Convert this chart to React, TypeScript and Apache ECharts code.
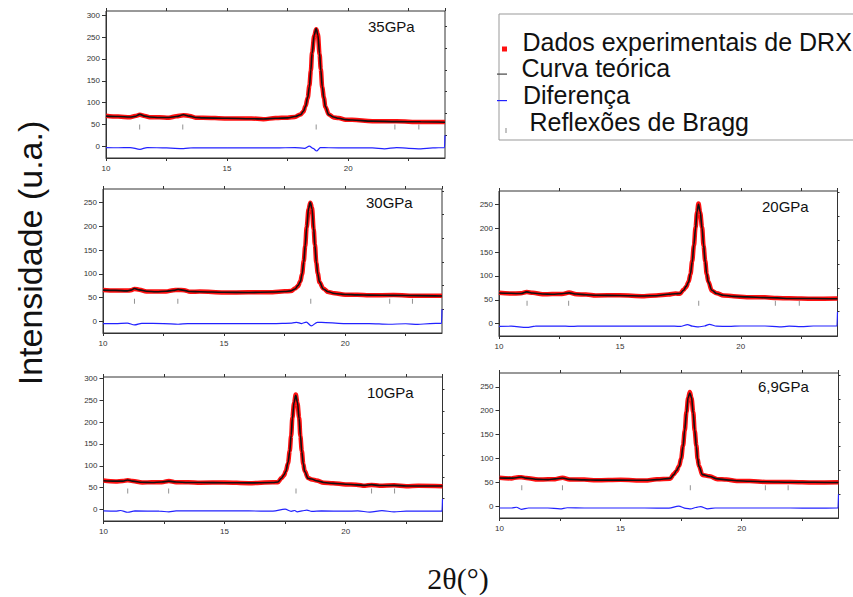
import React, { useEffect, useRef } from "react";
import * as echarts from "echarts";

// ---------- data ----------
const panelLabels = ["35GPa", "30GPa", "20GPa", "10GPa", "6,9GPa"];

const x35 = [10.0,10.5,11.0,11.2,11.4,11.6,11.8,12.2,12.6,12.9,13.2,13.45,13.7,14.0,15.0,16.0,16.5,17.0,17.5,17.8,18.03,18.15,18.24,18.33,18.40,18.46,18.51,18.60,18.68,18.75,18.82,18.87,18.93,19.00,19.06,19.2,19.4,19.61,19.9,20.16,21.0,22.0,23.0,24.0];
const theo35 = [69,68,67,68.5,73,69,67,66,66,68,72,69,66,65,64,63,62.5,64,65,68,72,80,91,112,137,175,213,255,270,255,213,175,137,110,91,72,67,64,61,60,57.5,56.5,56,55];
const exp35 = [70,68,66.5,69,72,69.5,66.5,66.5,65.5,68.5,71,69.5,65.5,65.5,63.5,63.5,62,64.5,65.5,67,73,79,92,111,139,173,215,253,268,257,211,177,135,111,90,73,66,64.5,60.5,60.5,57,57,55.5,55.5];
const dX35 = [10.0,10.5,11.0,11.4,11.7,12.5,13.2,13.6,15,16,17,17.8,18.2,18.4,18.55,18.7,18.85,19.2,20,21,21.5,22,22.5,23,23.5,23.98,24];
const d35 = [-3,-3.5,-3,-7,-3,-4,-5.5,-3.5,-4,-4,-4,-3,-5,0,-5,-11,-3,-3.5,-4,-4,-6,-3,-5,-6,-4,-3,25];
const bragg35 = [11.39,13.17,18.68,21.93,22.92];

const x30 = [10.0,10.5,11.0,11.15,11.3,11.5,11.8,12.2,12.6,12.9,13.1,13.35,13.6,14.0,15.0,16.0,17.0,17.5,17.76,17.93,18.05,18.15,18.22,18.29,18.35,18.41,18.49,18.56,18.63,18.70,18.75,18.81,18.87,18.94,19.10,19.3,19.56,20.0,20.5,21.0,22.0,23.0,24.0];
const theo30 = [65.5,65,64,65.5,69,66,63,62,63,65,67,65,62.5,62,61,60.6,61.5,62.5,64,68,75,83,100,125,160,196,238,251,238,196,160,125,100,83,68,62,58.5,56.4,55.5,55,54.5,54,53];
const exp30 = [66,64.5,64.5,65,68,66.5,62.5,62.5,62.5,65.5,66,65.5,62,62.5,60.5,61,61,63,63.5,69,74,84,99,127,158,198,236,250,240,194,162,123,101,82,69,61.5,59,56,56,54.5,55,53.5,53.5];
const dX30 = [10.0,10.5,11.0,11.3,11.6,12.5,13.1,13.5,15,16,17,17.8,18.0,18.2,18.4,18.6,18.85,19.2,20,21,21.8,22.5,23,23.5,23.98,24];
const d30 = [-5,-5,-4,-8,-4.5,-5,-6.5,-5,-5,-5,-5,-4,-2.5,-5,-2,-10,-2.5,-3,-5,-5,-6.5,-5.5,-7,-5,-4.5,25];
const bragg30 = [11.30,13.09,18.58,21.84,22.78];

const x20 = [10.0,10.5,10.9,11.15,11.4,11.8,12.2,12.6,12.9,13.2,13.6,14.0,15.0,16.0,16.5,17.0,17.3,17.49,17.63,17.74,17.84,17.92,17.99,18.06,18.13,18.19,18.25,18.32,18.40,18.46,18.53,18.59,18.66,18.80,19.0,19.29,19.7,20.25,21.0,21.5,22.0,23.0,24.0];
const theo20 = [64,63.5,63,66.5,64,62,61.5,62.5,64.5,62,60.5,59.5,59,58,58.5,61.5,62.5,63,70,78,87,105,129,165,200,235,250,235,200,165,129,105,87,70,63,59.5,57,56,54.5,54,52.5,52.5,52];
const exp20 = [64.5,63,63.5,66,64.5,61.5,62,62,65,61.5,61,59,59.5,57.5,59,61,63,62.5,71,77,88,104,131,163,202,233,252,233,202,163,131,104,88,69,63.5,59,57.5,55.5,55,53.5,53,52,52.5];
const dX20 = [10.0,10.5,11.15,11.5,12.5,13.0,13.5,15,16,17,17.5,17.8,18.0,18.25,18.5,18.7,19.0,19.5,20,21,21.6,22,22.5,23,23.98,24];
const d20 = [-6,-5.5,-8,-5.5,-5,-6,-5,-5.5,-5.5,-5,-6,-2,-5.5,-7,-5,-1.5,-5.5,-6,-5,-5,-7,-5.5,-6.5,-5,-5,25];
const bragg20 = [11.16,12.88,18.26,21.43,22.42];

const x10 = [10.0,10.5,10.8,11.0,11.2,11.6,12.0,12.4,12.7,13.0,13.5,14.0,15.0,16.0,17.0,17.2,17.35,17.45,17.53,17.62,17.69,17.75,17.80,17.87,17.94,18.01,18.08,18.13,18.19,18.25,18.31,18.45,18.6,18.79,19.1,19.48,20.0,20.44,20.8,21.07,21.4,22.0,22.5,23.0,24.0];
const theo10 = [66,65,65,67.6,65,62.5,62,63,65,63,62,62,61.5,61,62,63,71.5,79,87,108,132,170,208,245,261,245,208,170,132,105,87,71.5,70,66,62,60,58,56.5,55.5,57,55,55.5,54,54,54];
const exp10 = [66.5,64.5,65.5,67,65.5,62,62.5,62.5,65.5,62.5,62.5,61.5,62,60.5,62.5,62.5,72,78,88,106,134,168,210,243,263,243,210,168,134,104,88,72,69,66.5,61.5,60.5,57.5,57,54.5,56.5,54.5,55.5,53.5,54.5,53.5];
const dX10 = [10.0,10.5,10.7,11.0,11.3,12.3,12.7,13.0,15,16,17,17.5,17.75,17.9,18.0,18.2,18.4,18.6,19,20,20.5,21,21.5,22,22.5,23,23.98,24];
const d10 = [-3,-3.5,-2,-6,-3,-3.5,-5,-3,-3,-3,-3.5,1,-4,-2,-5,-3,-1,-4,-3,-3.5,-3,-5.5,-2.5,-5,-3.5,-3.5,-3.5,25];
const bragg10 = [11.0,12.69,17.95,21.07,22.02];

const x69 = [10.0,10.5,10.7,10.9,11.1,11.6,12.0,12.3,12.6,12.9,13.5,14.0,15.0,16.0,16.5,17.05,17.20,17.30,17.42,17.50,17.58,17.65,17.72,17.79,17.86,17.93,18.00,18.06,18.13,18.18,18.24,18.38,18.68,19.0,19.37,19.8,20.33,21.0,22.0,23.0,24.0];
const theo69 = [59,58.5,59.5,61,58.5,56,55.5,57,59,56,55,54.5,54.5,54,55.5,58,66,74,83,100,125,160,195,228,237,228,195,160,125,100,83,66,62,57,55,53,52,51,50,50,49.5];
const exp69 = [59.5,58,60,60.5,59,55.5,56,56.5,59.5,55.5,55.5,54,55,53.5,56,57.5,67,73,84,99,127,158,197,226,239,226,197,158,127,99,84,65,62.5,56.5,55.5,52.5,52.5,50.5,50.5,49.5,50];
const dX69 = [10.0,10.5,10.7,10.9,11.2,12.0,12.5,12.8,13.5,15,16,17,17.4,17.7,17.9,18.1,18.3,18.6,18.9,20,21,22,23,23.98,24];
const d69 = [-4,-4,-2.5,-7,-4,-4,-6,-3.5,-4,-4,-4,-4.5,0,-5,-6,-3,-1,-6,-4,-4,-4,-4,-4.5,-4,25];
const bragg69 = [10.92,12.6,17.88,20.98,21.92];

const braggLevel = [44, 42, 42.5, 42.5, 38.5];
const yMajor300 = [0, 50, 100, 150, 200, 250, 300];
const yMajor250 = [0, 50, 100, 150, 200, 250];
const yMinor300 = [25, 75, 125, 175, 225, 275];
const yMinor250 = [25, 75, 125, 175, 225, 275];
const legendLabels = ["Dados experimentais de DRX", "Curva teórica", "Diferença", " Reflexões de Bragg"];

// ---------- layout ----------
const panels = [
  { x: x35, theo: theo35, exp: exp35, dX: dX35, d: d35, bragg: bragg35, major: yMajor300, minor: yMinor300, min: -27, max: 310, box: [106, 11, 339, 147], lab: [368, 28] },
  { x: x30, theo: theo30, exp: exp30, dX: dX30, d: d30, bragg: bragg30, major: yMajor250, minor: yMinor250, min: -25, max: 279, box: [103, 189, 339, 144], lab: [366, 204] },
  { x: x20, theo: theo20, exp: exp20, dX: dX20, d: d20, bragg: bragg20, major: yMajor250, minor: yMinor250, min: -26, max: 278, box: [499, 191, 338.5, 145], lab: [762, 208] },
  { x: x10, theo: theo10, exp: exp10, dX: dX10, d: d10, bragg: bragg10, major: yMajor300, minor: yMinor300, min: -26, max: 303, box: [103.5, 377, 339, 144], lab: [367, 394] },
  { x: x69, theo: theo69, exp: exp69, dX: dX69, d: d69, bragg: bragg69, major: yMajor250, minor: yMinor250, min: -25, max: 279, box: [499.5, 373, 339, 145], lab: [758, 388] },
];

const AX = "#333";
const FONT = "'Liberation Sans', Arial, sans-serif";

function zip(a: number[], b: number[]) {
  return a.map((v, i) => [v, b[i]]);
}

function buildOption() {
  const grid: any[] = [];
  const xAxis: any[] = [];
  const yAxis: any[] = [];
  const series: any[] = [];
  const graphic: any[] = [];

  panels.forEach((p, i) => {
    const [l, t, w, h] = p.box;
    grid.push({ left: l, top: t, width: w, height: h, show: true, borderColor: AX, borderWidth: 1, backgroundColor: "transparent" });
    xAxis.push({
      type: "value", gridIndex: i, min: 10, max: 24, interval: 2.5, position: "bottom",
      axisLine: { show: true, onZero: false, lineStyle: { color: AX, width: 1 } },
      axisTick: { show: true, length: 3, lineStyle: { color: AX } },
      axisLabel: { color: AX, fontSize: 8, fontFamily: FONT, margin: 6, showMaxLabel: false, formatter: (v: number) => (v % 5 === 0 ? String(v) : "") },
      splitLine: { show: false },
    });
    xAxis.push({
      type: "value", gridIndex: i, min: 10, max: 24, interval: 2.5, position: "top",
      axisLine: { show: false, onZero: false },
      axisTick: { show: true, length: 3, lineStyle: { color: AX } },
      axisLabel: { show: false },
      splitLine: { show: false },
    });
    yAxis.push({
      type: "value", gridIndex: i, min: p.min, max: p.max,
      axisLine: { show: true, onZero: false, lineStyle: { color: AX, width: 1 } },
      axisTick: { show: true, length: 4, customValues: p.major, lineStyle: { color: AX } },
      axisLabel: { color: AX, fontSize: 8, fontFamily: FONT, margin: 6, customValues: p.major },
      splitLine: { show: false },
    });
    yAxis.push({
      type: "value", gridIndex: i, min: p.min, max: p.max,
      axisLine: { show: false, onZero: false },
      axisTick: { show: true, length: 2, customValues: p.minor.filter((v) => v < p.max), lineStyle: { color: AX } },
      axisLabel: { show: false },
      splitLine: { show: false },
    });

    const xi = i * 2;
    const yi = i * 2;
    series.push({
      type: "line", name: legendLabels[0], xAxisIndex: xi, yAxisIndex: yi, data: zip(p.x, p.exp),
      symbol: "none", smooth: 0.35, smoothMonotone: "x", lineStyle: { color: "#ff1010", width: 4.5 }, z: 2,
    });
    series.push({
      type: "line", name: legendLabels[1], xAxisIndex: xi, yAxisIndex: yi, data: zip(p.x, p.theo),
      symbol: "none", smooth: 0.35, smoothMonotone: "x", lineStyle: { color: "#111", width: 1.6 }, z: 3,
    });
    series.push({
      type: "line", name: legendLabels[2], xAxisIndex: xi, yAxisIndex: yi, data: zip(p.dX, p.d),
      symbol: "none", smooth: 0.3, smoothMonotone: "x", lineStyle: { color: "#2222ff", width: 1.2 }, z: 3,
    });
    series.push({
      type: "scatter", name: legendLabels[3], xAxisIndex: xi, yAxisIndex: yi,
      data: p.bragg.map((b) => [b, braggLevel[i]]),
      symbol: "rect", symbolSize: [1, 5], itemStyle: { color: "#777" }, z: 3,
    });

    graphic.push({
      type: "text", left: p.lab[0], top: p.lab[1] - 9,
      style: { text: panelLabels[i], fill: "#111", font: `15px ${FONT}` },
    });
  });

  // legend box
  const lx = 499, ly = 14;
  graphic.push({ type: "rect", shape: { x: lx, y: ly, width: 370, height: 126 }, style: { fill: "#fff", stroke: "#999", lineWidth: 1 }, z: 10 });
  graphic.push({ type: "rect", shape: { x: 502, y: 46.5, width: 5, height: 5 }, style: { fill: "#ff1010" }, z: 11 });
  graphic.push({ type: "rect", shape: { x: 497, y: 73.5, width: 10, height: 1.2 }, style: { fill: "#444" }, z: 11 });
  graphic.push({ type: "rect", shape: { x: 497, y: 100, width: 10, height: 1.2 }, style: { fill: "#2222ff" }, z: 11 });
  graphic.push({ type: "rect", shape: { x: 505.5, y: 128, width: 1, height: 5 }, style: { fill: "#888" }, z: 11 });
  const rowY = [42, 67.5, 94.5, 122];
  const rowX = [522.5, 521.5, 523, 522.5];
  legendLabels.forEach((txt, k) => {
    graphic.push({
      type: "text", x: rowX[k], y: rowY[k], z: 11,
      style: { text: txt, fill: "#111", font: `25px ${FONT}`, textVerticalAlign: "middle", textAlign: "left" },
    });
  });

  // axis titles
  graphic.push({
    type: "text", x: 30, y: 253, rotation: Math.PI / 2,
    style: { text: "Intensidade (u.a.)", fill: "#111", font: `34px ${FONT}`, textAlign: "center", textVerticalAlign: "middle" },
  });
  graphic.push({
    type: "text", x: 458, y: 578,
    style: { text: "2θ(°)", fill: "#111", font: `30px 'Liberation Serif', 'Times New Roman', serif`, textAlign: "center", textVerticalAlign: "middle" },
  });

  return { animation: false, backgroundColor: "#fff", grid, xAxis, yAxis, series, graphic };
}

export default function App() {
  const ref = useRef<HTMLDivElement>(null);
  useEffect(() => {
    if (!ref.current) return;
    const chart = echarts.init(ref.current, undefined, { renderer: "svg" });
    chart.setOption(buildOption() as any);
    return () => chart.dispose();
  }, []);
  return <div ref={ref} style={{ position: "fixed", left: 0, top: 0, width: 853, height: 597 }} />;
}
